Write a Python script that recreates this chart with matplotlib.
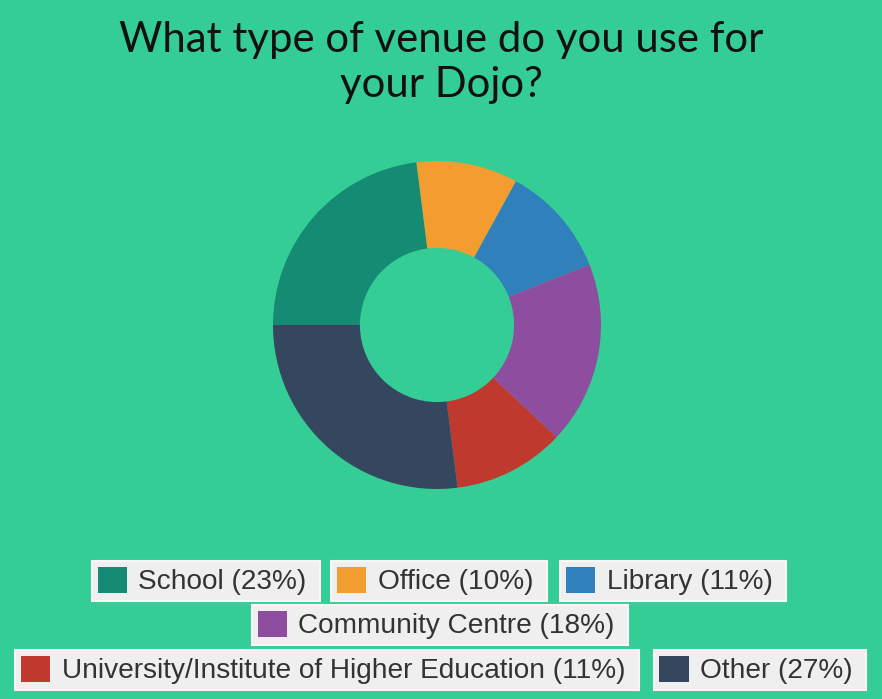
import matplotlib
matplotlib.use("Agg")
import matplotlib.pyplot as plt
from matplotlib.patches import Patch

# data
venues = ["School", "Office", "Library", "Community Centre",
          "University/Institute of Higher Education", "Other"]
shares = [23, 10, 11, 18, 11, 27]
colors = ["#168b73", "#f39c2f", "#2f80bb", "#8e4ea0", "#c0392f", "#34475f"]
title_lines = ["What type of venue do you use for", "your Dojo?"]

bg = "#35cd96"
W, H = 882, 699

fig = plt.figure(figsize=(W / 100, H / 100), dpi=100, facecolor=bg)

# donut: centre (437, 325) px, radius 164 px
cx, cy, r = 437, 325, 164
ax = fig.add_axes([(cx - r) / W, (H - cy - r) / H, 2 * r / W, 2 * r / H])
ax.set_facecolor(bg)
ax.pie(shares, colors=colors, startangle=180, counterclock=False, radius=1,
       wedgeprops=dict(width=0.53, linewidth=0))
ax.set_xlim(-1, 1)
ax.set_ylim(-1, 1)
ax.set_aspect("equal")
ax.axis("off")

# title, two lines placed by baseline
for line, base in zip(title_lines, [52, 97]):
    fig.text(0.5, 1 - base / H, line, ha="center", va="baseline",
             fontsize=30.2, family="Lato", fontweight="normal", color="#111111")

# legend, one framed box per item
centres = [(206, 581), (439, 581), (673, 581),
           (440, 625),
           (327, 670), (760, 670)]
for name, val, col, (x, y) in zip(venues, shares, colors, centres):
    leg = fig.legend(handles=[Patch(facecolor=col)],
                     labels=[f"{name} ({val}%) "],
                     loc="center", bbox_to_anchor=(x / W, 1 - y / H),
                     prop=dict(family="Liberation Sans", size=20.2),
                     frameon=True, fancybox=False, framealpha=1,
                     facecolor="#efefef", edgecolor="#f7f7f7",
                     handlelength=1.05, handleheight=1.05, handletextpad=0.4,
                     borderpad=0.2, borderaxespad=0)
    leg.get_frame().set_linewidth(1.5)
    for t in leg.get_texts():
        t.set_color("#333333")

fig.savefig("out.png", dpi=100, facecolor=bg)
